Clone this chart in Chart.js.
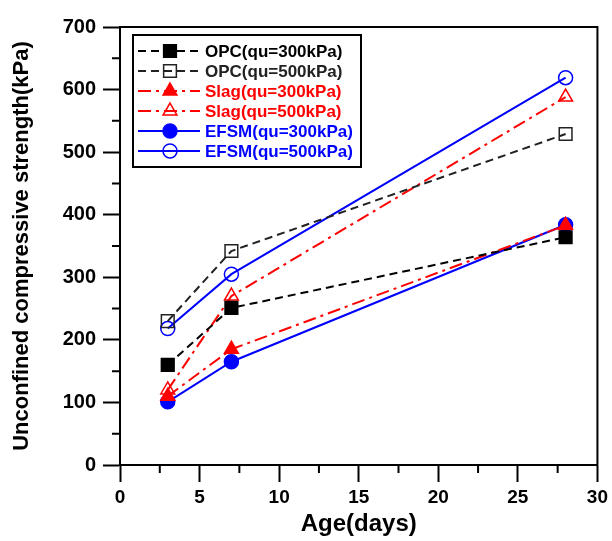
<!DOCTYPE html>
<html>
<head>
<meta charset="utf-8">
<script src="https://cdn.jsdelivr.net/npm/chart.js@4.4.1/dist/chart.umd.min.js"></script>
<style>
    html, body { margin: 0; padding: 0; background: #fff; }
    #wrap { width: 612px; height: 541px; }
</style>
</head>
<body>
<div id="wrap"><canvas id="chart" width="612" height="541"></canvas></div>
<script>
// Chart data
const ages = [3, 7, 28];
const opc300 = [160, 251, 364];
const opc500 = [230, 342, 529];
const slag300 = [110, 185, 383];
const slag500 = [120, 270, 588];
const efsm300 = [101, 165, 384];
const efsm500 = [218, 305, 619];

const xTicks = [0, 5, 10, 15, 20, 25, 30];
const yTicks = [0, 100, 200, 300, 400, 500, 600, 700];

const FONT = "'Liberation Sans', Arial, sans-serif";
const BLACK = '#000000';
const RED = '#ff0000';
const BLUE = '#0000ff';

// Helper to turn a value list into points
function toPoints(values) {
    return ages.map((a, i) => ({ x: a, y: values[i] }));
}

function makeSet(label, values, color, style, filled, radius, dash) {
    return {
        label: label,
        data: toPoints(values),
        borderColor: color,
        backgroundColor: filled ? color : 'rgba(0,0,0,0)',
        pointBorderColor: color,
        pointBackgroundColor: filled ? color : 'rgba(0,0,0,0)',
        pointStyle: style,
        pointRadius: radius,
        pointBorderWidth: 1.5,
        borderWidth: 2,
        borderDash: dash,
        tension: 0,
        textColor: color
    };
}

const dashed = [8, 5];
const dashDot = [13, 5, 3, 5];

const datasets = [
    makeSet('OPC(qu=300kPa)', opc300, BLACK, 'rect', true, 9, dashed),
    makeSet('OPC(qu=500kPa)', opc500, '#222222', 'rect', false, 9, dashed),
    makeSet('Slag(qu=300kPa)', slag300, RED, 'triangle', true, 8, dashDot),
    makeSet('Slag(qu=500kPa)', slag500, RED, 'triangle', false, 8, dashDot),
    makeSet('EFSM(qu=300kPa)', efsm300, BLUE, 'circle', true, 7, []),
    makeSet('EFSM(qu=500kPa)', efsm500, BLUE, 'circle', false, 7, [])
];

// Draw one legend marker in the dataset's colours
function drawLegendMarker(ctx, ds, x, y) {
    ctx.save();
    ctx.fillStyle = ds.pointBackgroundColor;
    ctx.strokeStyle = ds.pointBorderColor;
    ctx.lineWidth = ds.pointBorderWidth;
    ctx.setLineDash([]);
    Chart.helpers.drawPoint(ctx, {
        pointStyle: ds.pointStyle,
        radius: ds.pointRadius,
        borderWidth: ds.pointBorderWidth,
        rotation: 0
    }, x, y);
    ctx.restore();
}

// Plugin: frame round the plot, minor ticks and the boxed legend inside the plot
const framePlugin = {
    id: 'frame',
    afterDraw(chart) {
        const ctx = chart.ctx;
        const area = chart.chartArea;
        const xs = chart.scales.x;
        const ys = chart.scales.y;

        ctx.save();
        ctx.strokeStyle = BLACK;
        ctx.lineWidth = 2;
        ctx.strokeRect(area.left, area.top, area.right - area.left, area.bottom - area.top);

        // Minor ticks between the labelled ones
        ctx.beginPath();
        for (let i = 0; i < xTicks.length - 1; i++) {
            const px = xs.getPixelForValue((xTicks[i] + xTicks[i + 1]) / 2);
            ctx.moveTo(px, area.bottom);
            ctx.lineTo(px, area.bottom + 8);
        }
        for (let i = 0; i < yTicks.length - 1; i++) {
            const py = ys.getPixelForValue((yTicks[i] + yTicks[i + 1]) / 2);
            ctx.moveTo(area.left, py);
            ctx.lineTo(area.left - 8, py);
        }
        ctx.stroke();

        // Legend box
        const boxLeft = area.left + 13;
        const boxTop = area.top + 8;
        const boxW = 228;
        const rowH = 20;
        const boxH = 132;
        ctx.fillStyle = '#ffffff';
        ctx.fillRect(boxLeft, boxTop, boxW, boxH);
        ctx.strokeRect(boxLeft, boxTop, boxW, boxH);

        chart.data.datasets.forEach((ds, i) => {
            const cy = boxTop + 16 + i * rowH;
            const mx = boxLeft + 37;

            // Sample line with a gap round the marker
            ctx.save();
            ctx.strokeStyle = ds.borderColor;
            ctx.lineWidth = 2;
            ctx.setLineDash(ds.borderDash);
            ctx.beginPath();
            ctx.moveTo(boxLeft + 5, cy);
            ctx.lineTo(boxLeft + 67, cy);
            ctx.stroke();
            ctx.restore();

            drawLegendMarker(ctx, ds, mx, cy);

            ctx.fillStyle = ds.textColor;
            ctx.font = 'bold 17px ' + FONT;
            ctx.textAlign = 'left';
            ctx.textBaseline = 'middle';
            ctx.fillText(ds.label, boxLeft + 72, cy + 1);
        });
        ctx.restore();
    }
};

new Chart(document.getElementById('chart'), {
    type: 'line',
    data: { datasets: datasets },
    options: {
        responsive: false,
        animation: false,
        devicePixelRatio: 1,
        layout: { padding: { top: 27, right: 13, left: 0, bottom: 0 } },
        plugins: {
            legend: { display: false },
            tooltip: { enabled: false }
        },
        scales: {
            x: {
                type: 'linear',
                min: 0,
                max: 30,
                afterFit: (scale) => { scale.height = 76; },
                afterBuildTicks: (scale) => { scale.ticks = xTicks.map(v => ({ value: v })); },
                ticks: {
                    color: BLACK,
                    padding: 4,
                    font: { family: FONT, size: 19, weight: 'bold' }
                },
                grid: {
                    drawOnChartArea: false,
                    drawTicks: true,
                    tickLength: 17,
                    tickWidth: 2,
                    tickColor: BLACK
                },
                border: { display: true, color: BLACK, width: 2 },
                title: {
                    display: true,
                    text: 'Age(days)',
                    color: BLACK,
                    padding: { top: 0, bottom: 2 },
                    font: { family: FONT, size: 24, weight: 'bold' }
                }
            },
            y: {
                min: 0,
                max: 700,
                afterFit: (scale) => { scale.width = 120; },
                afterBuildTicks: (scale) => { scale.ticks = yTicks.map(v => ({ value: v })); },
                ticks: {
                    color: BLACK,
                    padding: 7,
                    font: { family: FONT, size: 20, weight: 'bold' }
                },
                grid: {
                    drawOnChartArea: false,
                    drawTicks: true,
                    tickLength: 17,
                    tickWidth: 2,
                    tickColor: BLACK
                },
                border: { display: true, color: BLACK, width: 2 },
                title: {
                    display: true,
                    text: 'Unconfined compressive strength(kPa)',
                    color: BLACK,
                    padding: { top: 9, bottom: 0 },
                    font: { family: FONT, size: 22, weight: 'bold' }
                }
            }
        }
    },
    plugins: [framePlugin]
});
</script>
</body>
</html>
